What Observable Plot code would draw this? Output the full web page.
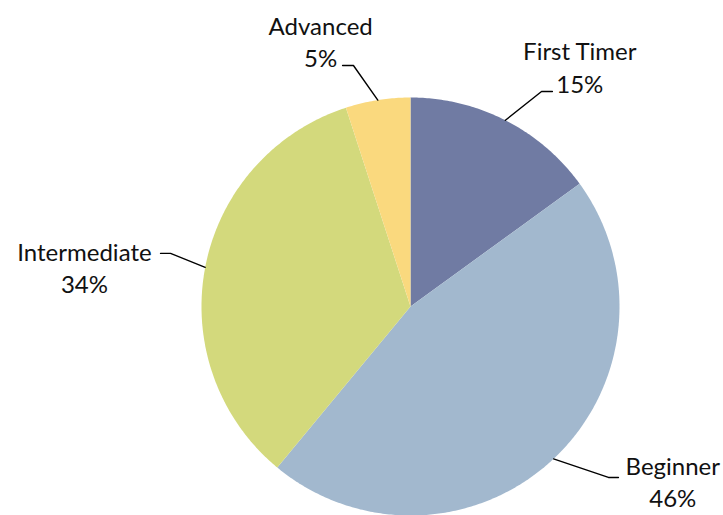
<!DOCTYPE html>
<html>
<head>
<meta charset="utf-8">
<script src="https://cdn.jsdelivr.net/npm/d3@7"></script>
<script src="https://cdn.jsdelivr.net/npm/@observablehq/plot@0.6"></script>
<style>
  html, body { margin: 0; padding: 0; background: #fff; }
  #chart svg { display: block; }
</style>
</head>
<body>
<div id="chart"></div>
<script>
// ---- data ----
const categories = ["First Timer", "Beginner", "Intermediate", "Advanced"];
const shares = [15, 46, 34, 5];
const sliceColors = ["#707BA3", "#A2B8CE", "#D3D97C", "#FAD97E"];

// ---- label layout (pie-radius units, relative to pie centre) ----
const labelText = [[0.81, 1.15], [1.255, -0.835], [-1.56, 0.19], [-0.43, 1.27]];
const labelElbow = [[0.627, 1.029], [0.947, -0.818], [-1.148, 0.254], [-0.273, 1.153]];
const labelEnd = [[0.679, 1.029], [0.995, -0.818], [-1.196, 0.254], [-0.325, 1.153]];

const total = d3.sum(shares);
const pie = d3.pie().sort(null).value(d => d.value);
const arcs = pie(categories.map((name, i) => ({name, value: shares[i]})));

// slice outlines as polygons in unit-radius coordinates (angle 0 = 12 o'clock, clockwise)
const polyPts = [];
arcs.forEach(a => {
  const name = a.data.name;
  polyPts.push({name, x: 0, y: 0});
  const n = Math.max(2, Math.ceil((a.endAngle - a.startAngle) / 0.01));
  for (let k = 0; k <= n; k++) {
    const t = a.startAngle + (a.endAngle - a.startAngle) * k / n;
    polyPts.push({name, x: Math.sin(t), y: Math.cos(t)});
  }
  polyPts.push({name, x: 0, y: 0});
});

// leader lines
const leaderPts = [];
arcs.forEach((a, i) => {
  const mid = (a.startAngle + a.endAngle) / 2;
  const name = a.data.name;
  leaderPts.push({name, x: Math.sin(mid), y: Math.cos(mid)});
  leaderPts.push({name, x: labelElbow[i][0], y: labelElbow[i][1]});
  leaderPts.push({name, x: labelEnd[i][0], y: labelEnd[i][1]});
});

const labels = arcs.map((a, i) => ({
  x: labelText[i][0], y: labelText[i][1],
  text: `${a.data.name}\n${Math.round(a.data.value / total * 100)}%`
}));

const cx = 410, cy = 306, r = 209;
const chart = Plot.plot({
  width: 723,
  height: 515,
  margin: 0,
  style: {background: "#fff"},
  x: {domain: [-1, 1], range: [cx - r, cx + r], axis: null},
  y: {domain: [-1, 1], range: [cy + r, cy - r], axis: null},
  color: {domain: categories, range: sliceColors},
  marks: [
    Plot.line(polyPts, {x: "x", y: "y", z: "name", fill: "name", stroke: "none", curve: "linear"}),
    Plot.line(leaderPts, {x: "x", y: "y", z: "name", stroke: "#000", strokeWidth: 1.4, fill: "none"}),
    Plot.text(labels, {
      x: "x", y: "y", text: "text",
      fontSize: 24, fontFamily: "Lato", fill: "#111",
      lineHeight: 1.34, textAnchor: "middle", lineAnchor: "middle"
    })
  ]
});
document.getElementById("chart").appendChild(chart);
</script>
</body>
</html>
